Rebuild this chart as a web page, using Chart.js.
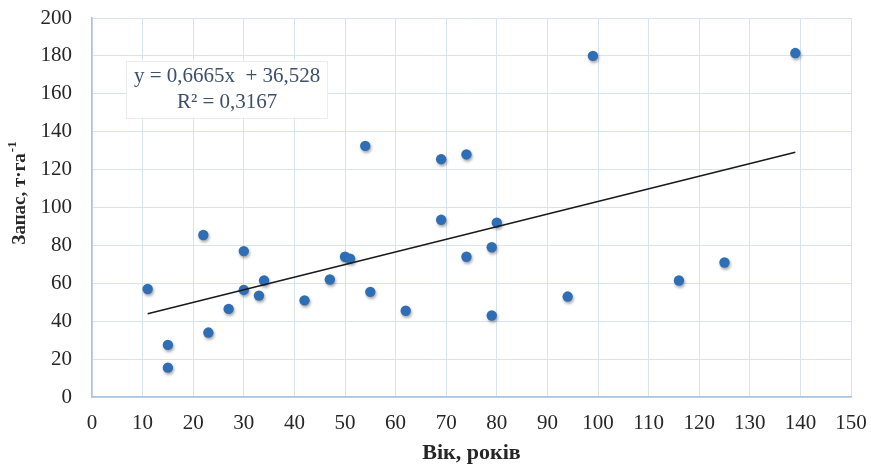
<!DOCTYPE html>
<html>
<head>
<meta charset="utf-8">
<script src="https://cdn.jsdelivr.net/npm/chart.js@4"></script>
<style>
  html, body { margin: 0; padding: 0; background: #fff; }
  #wrap { width: 871px; height: 464px; }
</style>
</head>
<body>
<div id="wrap"><canvas id="chart"></canvas></div>
<script>
// Вік (x) і запас (y)
const ageX = [11, 15, 15, 22, 23, 27, 30, 30, 33, 34, 42, 47, 50, 51, 54, 55, 62, 69, 69, 74, 74, 79, 79, 80, 94, 99, 116, 125, 139];
const stockY = [57, 27.5, 15.5, 85.5, 34, 46.5, 77, 56.5, 53.5, 61.5, 51, 62, 74, 73, 132.5, 55.5, 45.5, 125.5, 93.5, 128, 74, 79, 43, 92, 53, 180, 61.5, 71, 181.5];

// Лінія тренду (кінці)
const trendX = [11, 139];
const trendY = [43.9, 129.2];

const eqLines = ["y = 0,6665x  + 36,528", "R² = 0,3167"];
const xTitle = "Вік, років";
const yTitle = "Запас, т·га";
const yTitleSup = "-1";

const SERIF = "'Liberation Serif', 'Times New Roman', serif";
const TEXT = "#262626";

const points = ageX.map((x, i) => ({ x: x, y: stockY[i] }));
const trend = trendX.map((x, i) => ({ x: x, y: trendY[i] }));

// shadow under the dots
const dotShadow = {
  id: "dotShadow",
  beforeDatasetDraw(chart, args) {
    if (args.index !== 1) return;
    const ctx = chart.ctx;
    ctx.save();
    ctx.shadowColor = "rgba(0,0,0,0.35)";
    ctx.shadowBlur = 3;
    ctx.shadowOffsetX = 1;
    ctx.shadowOffsetY = 2;
  },
  afterDatasetDraw(chart, args) {
    if (args.index !== 1) return;
    chart.ctx.restore();
  }
};

// equation label + rotated y title with superscript
const extras = {
  id: "extras",
  afterDraw(chart) {
    const ctx = chart.ctx;
    const xs = chart.scales.x, ys = chart.scales.y;
    const area = chart.chartArea;

    // equation box
    const l = xs.getPixelForValue(6.8), r = xs.getPixelForValue(46.6);
    const t = ys.getPixelForValue(177.5), b = ys.getPixelForValue(147.5);
    ctx.save();
    ctx.fillStyle = "#fff";
    ctx.fillRect(l, t, r - l, b - t);
    ctx.strokeStyle = "#ececec";
    ctx.lineWidth = 1;
    ctx.strokeRect(Math.round(l) + 0.5, Math.round(t) + 0.5, Math.round(r - l), Math.round(b - t));
    ctx.fillStyle = "#3d4f6b";
    ctx.font = "21px " + SERIF;
    ctx.textAlign = "center";
    ctx.textBaseline = "middle";
    const cx = (l + r) / 2;
    ctx.fillText(eqLines[0], cx, t + 16);
    ctx.fillText(eqLines[1], cx, t + 42);
    ctx.restore();

    // y title
    ctx.save();
    ctx.translate(18, (area.top + area.bottom) / 2 - 14);
    ctx.rotate(-Math.PI / 2);
    ctx.fillStyle = TEXT;
    ctx.font = "bold 19px " + SERIF;
    const w1 = ctx.measureText(yTitle).width;
    ctx.font = "bold 13px " + SERIF;
    const w2 = ctx.measureText(yTitleSup).width;
    const start = -(w1 + w2) / 2;
    ctx.textAlign = "left";
    ctx.textBaseline = "alphabetic";
    ctx.font = "bold 19px " + SERIF;
    ctx.fillText(yTitle, start, 7);
    ctx.font = "bold 13px " + SERIF;
    ctx.fillText(yTitleSup, start + w1 + 1, -2);
    ctx.restore();
  }
};

new Chart(document.getElementById("chart"), {
  type: "scatter",
  data: {
    datasets: [
      {
        type: "line",
        data: trend,
        borderColor: "#1a1a1a",
        borderWidth: 1.6,
        pointRadius: 0,
        fill: false,
        tension: 0
      },
      {
        data: points,
        backgroundColor: "#2f6db5",
        borderColor: "#2f6db5",
        borderWidth: 0,
        pointRadius: 5.2
      }
    ]
  },
  options: {
    responsive: true,
    maintainAspectRatio: false,
    animation: false,
    layout: { padding: { top: 18, right: 20, left: 0, bottom: 0 } },
    plugins: { legend: { display: false }, tooltip: { enabled: false } },
    scales: {
      x: {
        type: "linear",
        min: 0,
        max: 150,
        afterFit(s) { s.height = 67; s.paddingLeft = 0; s.paddingRight = 0; },
        ticks: { stepSize: 10, padding: 14, color: TEXT, font: { family: SERIF, size: 21 } },
        grid: { color: "#d7e3f3", drawTicks: false },
        border: { color: "#a8c2e4", width: 1.5 },
        title: {
          display: true,
          text: xTitle,
          color: TEXT,
          font: { family: SERIF, size: 22, weight: "bold", lineHeight: 1 },
          padding: { top: 0, bottom: 0 }
        }
      },
      y: {
        min: 0,
        max: 200,
        afterFit(s) { s.width = 92; s.paddingTop = 0; s.paddingBottom = 0; },
        ticks: { stepSize: 20, padding: 20, color: TEXT, font: { family: SERIF, size: 21 } },
        grid: { color: "#d7e3f3", drawTicks: false },
        border: { color: "#a8c2e4", width: 1.5 }
      }
    }
  },
  plugins: [dotShadow, extras]
});
</script>
</body>
</html>
